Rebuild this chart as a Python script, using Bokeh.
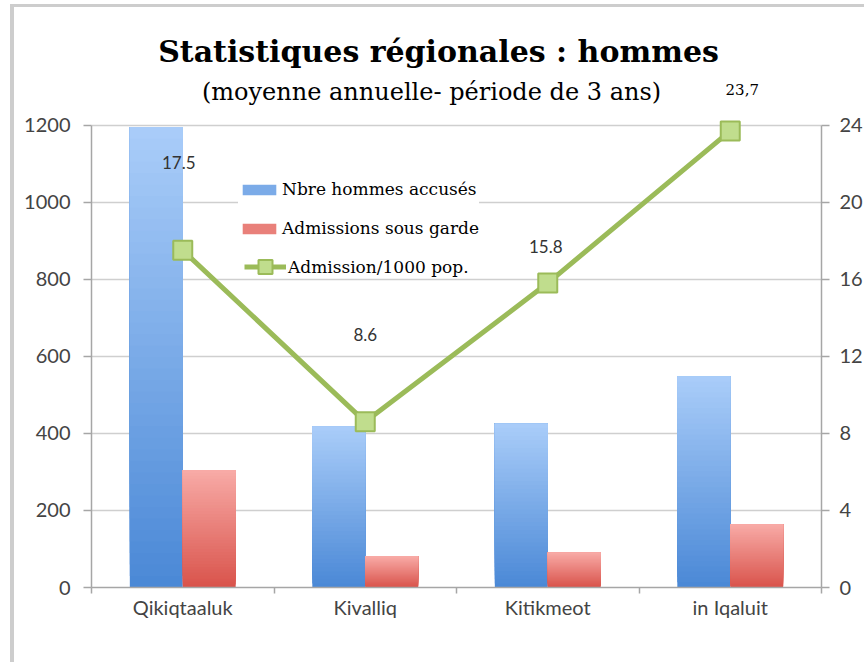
import numpy as np
from bokeh.plotting import figure
from bokeh.models import (Range1d, LinearAxis, FixedTicker, ColumnDataSource,
                          Legend, LegendItem, Label)
from bokeh.embed import file_html
from bokeh.resources import INLINE

# ---- data -------------------------------------------------------------
regions = ["Qikiqtaaluk", "Kivalliq", "Kitikmeot", "in Iqaluit"]
hommes_accuses = [1195, 418, 425, 548]
admissions_garde = [305, 81, 91, 164]
admission_1000 = [17.5, 8.6, 15.8, 23.7]
admission_labels = ["17.5", "8.6", "15.8", "23,7"]
left_ticks = [0, 200, 400, 600, 800, 1000, 1200]
right_ticks = [0, 4, 8, 12, 16, 20, 24]
left_max, right_max = 1200, 24

title_text = "Statistiques régionales : hommes"
subtitle_text = "(moyenne annuelle- période de 3 ans)"
legend_labels = ["Nbre hommes accusés", "Admissions sous garde", "Admission/1000 pop."]

# ---- layout / style constants ------------------------------------------
CANVAS_X0, CANVAS_Y0 = 16, 10         # observed canvas position on page
W, H = 850, 655
FRAME_L, FRAME_R = 93, 819            # page coordinates
FRAME_T, AXIS_TOP, FRAME_B = 12, 127, 587
BAR_W = 0.29
N_SLICES = 40
SANS = "Lato"
SERIF = "DejaVu Serif"
label_dx = [-4, 0, -2, 12]
label_dy = [88, 87, 37, 41]

scale_up = (FRAME_B - FRAME_T) / (FRAME_B - AXIS_TOP)


def hex2rgb(h):
    h = h.lstrip("#")
    return [int(h[i:i + 2], 16) for i in (0, 2, 4)]


def lerp(c0, c1, t):
    a, b = hex2rgb(c0), hex2rgb(c1)
    return "#%02x%02x%02x" % tuple(int(round(a[i] + (b[i] - a[i]) * t)) for i in range(3))


def gradient_source(values, offset, c_bottom, c_top, n=N_SLICES):
    # each slice runs from its own bottom up to the bar top; later slices
    # cover earlier ones, giving a seamless vertical gradient
    L, R, B, T, C = [], [], [], [], []
    for i, v in enumerate(values):
        cx = i + 0.5 + offset
        for k in range(n):
            L.append(cx - BAR_W / 2)
            R.append(cx + BAR_W / 2)
            B.append(v * k / n)
            T.append(v)
            C.append(lerp(c_bottom, c_top, (k + 0.5) / n))
    return ColumnDataSource(dict(left=L, right=R, bottom=B, top=T, color=C))


p = figure(width=W, height=H, output_backend="svg", toolbar_location=None,
           x_range=Range1d(0, len(regions)),
           y_range=Range1d(0, left_max * scale_up),
           min_border_left=FRAME_L - CANVAS_X0,
           min_border_right=W - (FRAME_R - CANVAS_X0),
           min_border_top=FRAME_T - CANVAS_Y0,
           min_border_bottom=H - (FRAME_B - CANVAS_Y0))
p.extra_y_ranges = {"right": Range1d(0, right_max * scale_up)}
p.outline_line_color = None
p.background_fill_color = "white"
p.border_fill_color = "white"
p.styles = {"box-sizing": "content-box", "overflow": "hidden",
            "margin-left": "10px", "margin-top": "4px",
            "border-left": "4px solid #cdcdcd", "border-top": "3px solid #cdcdcd"}

# grid
p.xgrid.visible = False
p.ygrid.ticker = FixedTicker(ticks=left_ticks)
p.ygrid.grid_line_color = "#cfcfcf"
p.ygrid.grid_line_width = 1.5

# bars with vertical gradient
blue_src = gradient_source(hommes_accuses, -BAR_W / 2, "#4a88d6", "#aacdf9")
red_src = gradient_source(admissions_garde, BAR_W / 2, "#d9534b", "#f8aba7")
blue_r = p.quad(left="left", right="right", bottom="bottom", top="top", fill_color="color",
                line_color=None, source=blue_src)
red_r = p.quad(left="left", right="right", bottom="bottom", top="top", fill_color="color",
               line_color=None, source=red_src)

# line
xs = [i + 0.5 for i in range(len(regions))]
line_src = ColumnDataSource(dict(x=xs, y=admission_1000))
ln = p.line("x", "y", source=line_src, y_range_name="right", line_color="#9bbb59",
            line_width=5)
mk = p.scatter("x", "y", source=line_src, y_range_name="right", marker="square",
               size=19, fill_color="#c0dd8d", line_color="#9bbb59", line_width=2)

# data labels
for i, t in enumerate(admission_labels):
    is_last = i == len(admission_labels) - 1
    p.add_layout(Label(x=xs[i], y=admission_1000[i], y_range_name="right", text=t,
                       x_offset=label_dx[i], y_offset=label_dy[i],
                       text_align="center", text_baseline="middle",
                       text_font=SERIF if is_last else SANS,
                       text_font_size="15px" if is_last else "17px",
                       text_color="#000000" if is_last else "#333333"))

# axes
xax = p.xaxis[0]
xax.ticker = FixedTicker(ticks=xs, minor_ticks=list(range(len(regions) + 1)))
xax.major_label_overrides = {x: r for x, r in zip(xs, regions)}
xax.major_tick_out = 0
xax.major_tick_in = 0
xax.minor_tick_out = 6
xax.minor_tick_in = 0
xax.minor_tick_line_color = "#a6a6a6"
xax.minor_tick_line_width = 1.5
xax.axis_line_color = "#a6a6a6"
xax.axis_line_width = 1.5
xax.major_label_text_font = SANS
xax.major_label_text_font_size = "20px"
xax.major_label_text_color = "#444444"
xax.major_label_standoff = 1

yax = p.yaxis[0]
yax.ticker = FixedTicker(ticks=left_ticks)
yax.bounds = (0, left_max)
yax.major_tick_out = 8
yax.major_tick_in = 0
yax.minor_tick_out = 0
yax.minor_tick_in = 0
yax.major_tick_line_color = "#a6a6a6"
yax.major_tick_line_width = 1.5
yax.axis_line_color = "#a6a6a6"
yax.axis_line_width = 1.5
yax.major_label_text_font = SANS
yax.major_label_text_font_size = "20px"
yax.major_label_text_color = "#444444"
yax.major_label_standoff = 13

rax = LinearAxis(y_range_name="right", ticker=FixedTicker(ticks=right_ticks),
                 bounds=(0, right_max))
rax.major_tick_out = 8
rax.major_tick_in = 0
rax.minor_tick_out = 0
rax.minor_tick_in = 0
rax.major_tick_line_color = "#a6a6a6"
rax.major_tick_line_width = 1.5
rax.axis_line_color = "#a6a6a6"
rax.axis_line_width = 1.5
rax.major_label_text_font = SANS
rax.major_label_text_font_size = "20px"
rax.major_label_text_color = "#444444"
rax.major_label_standoff = 10
p.add_layout(rax, "right")

# titles (screen units relative to the plot frame's bottom-left)
p.add_layout(Label(x=440 - FRAME_L, y=FRAME_B - 51, x_units="screen", y_units="screen",
                   text=title_text, text_align="center", text_baseline="alphabetic",
                   text_font=SERIF, text_font_style="bold", text_font_size="30px",
                   text_color="#000000"))
p.add_layout(Label(x=433 - FRAME_L, y=FRAME_B - 91, x_units="screen", y_units="screen",
                   text=subtitle_text, text_align="center", text_baseline="alphabetic",
                   text_font=SERIF, text_font_size="24px", text_color="#000000"))

# legends
legend_bars = Legend(items=[LegendItem(label=legend_labels[0], renderers=[blue_r], index=N_SLICES // 2),
                            LegendItem(label=legend_labels[1], renderers=[red_r], index=N_SLICES // 2)],
                     location=(147, 348), orientation="vertical",
                     glyph_width=42, glyph_height=13, label_height=22, label_standoff=2,
                     spacing=17, padding=6, margin=0,
                     label_text_font=SERIF, label_text_font_size="17px",
                     label_text_color="#000000",
                     border_line_color=None, background_fill_color="white",
                     background_fill_alpha=1)
legend_line = Legend(items=[LegendItem(label=legend_labels[2], renderers=[ln, mk])],
                     location=(153, 303), orientation="vertical",
                     glyph_width=42, glyph_height=35, label_height=22, label_standoff=2,
                     spacing=0, padding=0, margin=0,
                     label_text_font=SERIF, label_text_font_size="17px",
                     label_text_color="#000000",
                     border_line_color=None, background_fill_color="white",
                     background_fill_alpha=0)
p.add_layout(legend_bars, "center")
p.add_layout(legend_line, "center")

open("out.html", "w").write(file_html(p, INLINE))
